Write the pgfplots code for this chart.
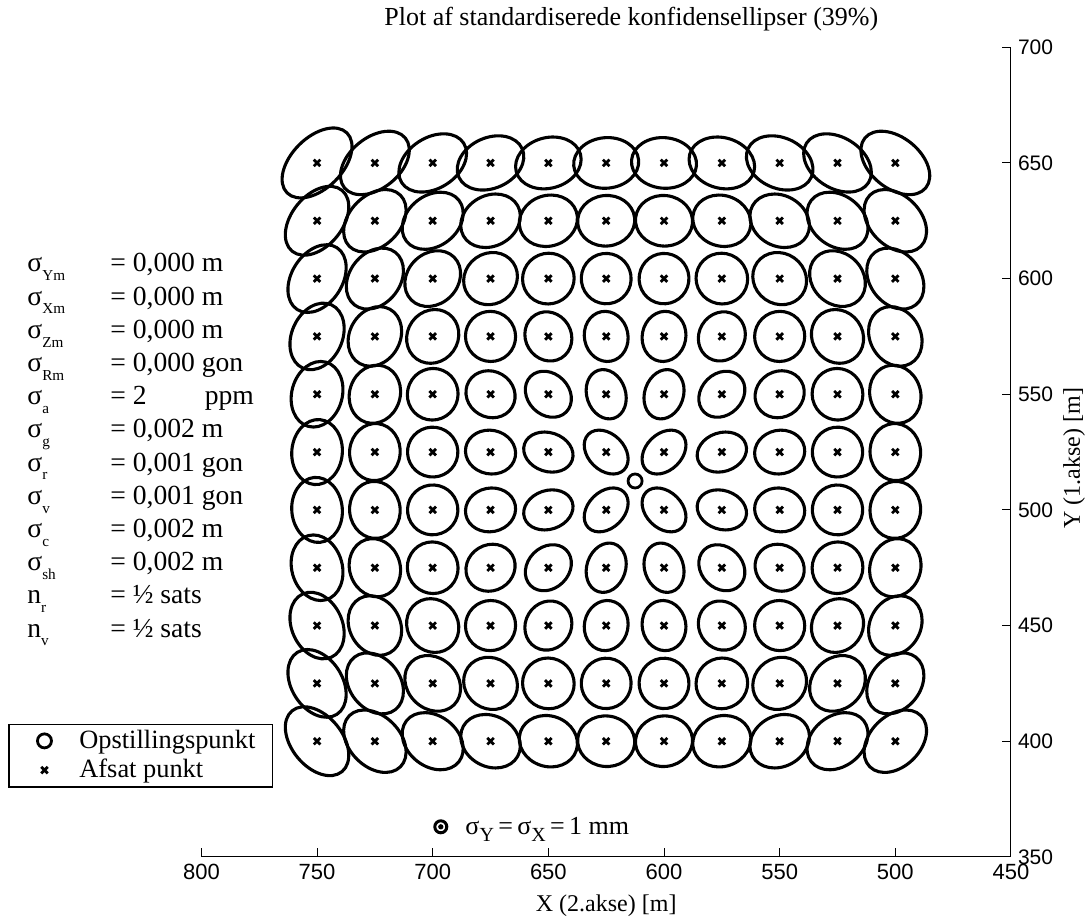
\documentclass[border=0pt]{standalone}
\usepackage{pgfplots}
\pgfplotsset{compat=1.18}
\usepackage{pgfplotstable}
\usepackage{fontspec}
\setmainfont{Liberation Serif}
\newfontfamily\sansf{Liberation Sans}

% drawing scale of the standard deviations: 1 mm on the drawing
\newdimen\ellunit
\ellunit=4.45pt
\newcommand\sub[1]{\raisebox{-4.4pt}[0pt][0pt]{\fontsize{7.6}{8}\selectfont #1}}

% staked-out points: X, Y [m], radial and transversal std. dev. [mm],
% direction of the radial axis on the drawing [deg]
\pgfplotstableread{
X   Y   r    t    a
750 400 2.85 4.42 39.3
725 400 2.85 4.06 45.0
700 400 2.84 3.74 52.1
675 400 2.84 3.49 61.0
650 400 2.84 3.31 71.6
625 400 2.84 3.21 83.7
600 400 2.84 3.21 -83.7
575 400 2.84 3.31 -71.6
550 400 2.84 3.49 -61.0
525 400 2.84 3.74 -52.1
500 400 2.85 4.06 -45.0
750 425 2.85 4.13 32.5
725 425 2.84 3.74 37.9
700 425 2.84 3.40 45.0
675 425 2.84 3.11 54.5
650 425 2.84 2.91 66.8
625 425 2.83 2.80 81.9
600 425 2.83 2.80 -81.9
575 425 2.84 2.91 -66.8
550 425 2.84 3.11 -54.5
525 425 2.84 3.40 -45.0
500 425 2.84 3.74 -37.9
750 450 2.84 3.90 24.4
725 450 2.84 3.49 29.1
700 450 2.84 3.11 35.5
675 450 2.83 2.80 45.0
650 450 2.83 2.57 59.0
625 450 2.83 2.45 78.7
600 450 2.83 2.45 -78.7
575 450 2.83 2.57 -59.0
550 450 2.83 2.80 -45.0
525 450 2.84 3.11 -35.5
500 450 2.84 3.49 -29.1
750 475 2.84 3.74 15.3
725 475 2.84 3.31 18.4
700 475 2.84 2.91 23.2
675 475 2.83 2.57 31.0
650 475 2.83 2.32 45.0
625 475 2.83 2.18 71.6
600 475 2.83 2.18 -71.6
575 475 2.83 2.32 -45.0
550 475 2.83 2.57 -31.0
525 475 2.84 2.91 -23.2
500 475 2.84 3.31 -18.4
750 500 2.84 3.66 5.2
725 500 2.84 3.21 6.3
700 500 2.83 2.80 8.1
675 500 2.83 2.45 11.3
650 500 2.83 2.18 18.4
625 500 2.83 2.04 45.0
600 500 2.83 2.04 -45.0
575 500 2.83 2.18 -18.4
550 500 2.83 2.45 -11.3
525 500 2.83 2.80 -8.1
500 500 2.84 3.21 -6.3
750 525 2.84 3.66 -5.2
725 525 2.84 3.21 -6.3
700 525 2.83 2.80 -8.1
675 525 2.83 2.45 -11.3
650 525 2.83 2.18 -18.4
625 525 2.83 2.04 -45.0
600 525 2.83 2.04 45.0
575 525 2.83 2.18 18.4
550 525 2.83 2.45 11.3
525 525 2.83 2.80 8.1
500 525 2.84 3.21 6.3
750 550 2.84 3.74 -15.3
725 550 2.84 3.31 -18.4
700 550 2.84 2.91 -23.2
675 550 2.83 2.57 -31.0
650 550 2.83 2.32 -45.0
625 550 2.83 2.18 -71.6
600 550 2.83 2.18 71.6
575 550 2.83 2.32 45.0
550 550 2.83 2.57 31.0
525 550 2.84 2.91 23.2
500 550 2.84 3.31 18.4
750 575 2.84 3.90 -24.4
725 575 2.84 3.49 -29.1
700 575 2.84 3.11 -35.5
675 575 2.83 2.80 -45.0
650 575 2.83 2.57 -59.0
625 575 2.83 2.45 -78.7
600 575 2.83 2.45 78.7
575 575 2.83 2.57 59.0
550 575 2.83 2.80 45.0
525 575 2.84 3.11 35.5
500 575 2.84 3.49 29.1
750 600 2.85 4.13 -32.5
725 600 2.84 3.74 -37.9
700 600 2.84 3.40 -45.0
675 600 2.84 3.11 -54.5
650 600 2.84 2.91 -66.8
625 600 2.83 2.80 -81.9
600 600 2.83 2.80 81.9
575 600 2.84 2.91 66.8
550 600 2.84 3.11 54.5
525 600 2.84 3.40 45.0
500 600 2.84 3.74 37.9
750 625 2.85 4.42 -39.3
725 625 2.85 4.06 -45.0
700 625 2.84 3.74 -52.1
675 625 2.84 3.49 -61.0
650 625 2.84 3.31 -71.6
625 625 2.84 3.21 -83.7
600 625 2.84 3.21 83.7
575 625 2.84 3.31 71.6
550 625 2.84 3.49 61.0
525 625 2.84 3.74 52.1
500 625 2.85 4.06 45.0
750 650 2.86 4.76 -45.0
725 650 2.85 4.42 -50.7
700 650 2.85 4.13 -57.5
675 650 2.84 3.90 -65.6
650 650 2.84 3.74 -74.7
625 650 2.84 3.66 -84.8
600 650 2.84 3.66 84.8
575 650 2.84 3.74 74.7
550 650 2.84 3.90 65.6
525 650 2.85 4.13 57.5
500 650 2.85 4.42 50.7
}\punkter

\begin{document}
\begin{tikzpicture}
\begin{axis}[
  name=ax,
  x=1.1565pt, y=1.1565pt,
  x dir=reverse,
  xmin=450, xmax=800, ymin=350, ymax=700,
  axis x line*=bottom, axis y line*=right,
  axis line style={line width=0.5pt},
  xtick={450,500,...,800}, ytick={350,400,...,700},
  tick align=inside,
  major tick length=4.5pt,
  tick style={line width=0.5pt, black},
  /pgf/number format/assume math mode=true,
  xticklabel style={font=\fontsize{11}{12}\sansf},
  yticklabel style={font=\fontsize{10.5}{12}\sansf},
  clip=false,
  title={Plot af standardiserede konfidensellipser (39\%)},
  every axis title/.style={at={(0.531,1.0272)}, anchor=base, inner sep=0pt,
    font=\fontsize{13}{15}\selectfont},
  xlabel={X (2.akse) [m]},
  every axis x label/.style={at={(0.5,-0.068)}, anchor=base, inner sep=0pt,
    font=\fontsize{12}{14}\selectfont},
  ylabel={Y (1.akse) [m]},
  every axis y label/.style={at={(1.085,0.4926)}, anchor=base, rotate=90,
    inner sep=0pt, font=\fontsize{12}{14}\selectfont},
  legend image code/.code={%
    \path (-12pt,0pt) (13.25pt,0pt);
    \draw[#1] plot coordinates {(0pt,0pt)};
  },
  legend style={at={(-0.2383,0.1646)}, anchor=north west, draw=black,
    line width=0.6pt, fill=white, inner xsep=5pt, inner ysep=3pt,
    row sep=3.9pt, font=\fontsize{13.2}{14}\selectfont,
    nodes={inner xsep=3.5pt, inner ysep=0pt}},
  legend cell align=left,
]

% instrument station
\addplot[only marks, mark=o, mark size=3.5pt, line width=1.4pt]
  coordinates {(612.5,512.5)};
\addlegendentry{Opstillingspunkt}
\addlegendimage{only marks, mark=x, mark size=2.3pt, line width=1.4pt}
\addlegendentry{Afsat punkt}

% staked-out points with their standard ellipses
\addplot[forget plot, scatter, only marks, mark=x, mark size=2.3pt,
  line width=1.4pt, mark options={line width=1.4pt},
  visualization depends on={\thisrow{r}\as\ellr},
  visualization depends on={\thisrow{t}\as\ellt},
  visualization depends on={\thisrow{a}\as\ella},
  scatter/@pre marker code/.code={%
    \pgfscope
      \pgfsetlinewidth{1.55pt}%
      \pgfsetroundjoin
      \pgftransformrotate{\ella}%
      \pgfpathellipse{\pgfpointorigin}{\pgfpoint{\ellr*\ellunit}{0pt}}{\pgfpoint{0pt}{\ellt*\ellunit}}%
      \pgfusepath{stroke}%
    \endpgfscope
  },
  scatter/@post marker code/.code={},
] table[x=X, y=Y] {\punkter};

% scale symbol: 1 mm circle
\addplot[forget plot, only marks, mark=o, mark size=3pt, line width=1.5pt]
  coordinates {(696.5,363)};
\addplot[forget plot, only marks, mark=*, mark size=1.1pt]
  coordinates {(696.5,363)};

% survey parameters
\node[anchor=base west, inner sep=0pt, font=\fontsize{13.8}{16.6}\selectfont]
  at (axis description cs:-0.2154,0.7225) {%
  \begin{tabular}[t]{@{}l@{}}
  \makebox[41.5pt][l]{σ\sub{Ym}}= 0,000 m\\
  \makebox[41.5pt][l]{σ\sub{Xm}}= 0,000 m\\
  \makebox[41.5pt][l]{σ\sub{Zm}}= 0,000 m\\
  \makebox[41.5pt][l]{σ\sub{Rm}}= 0,000 gon\\
  \makebox[41.5pt][l]{σ\sub{a}}= \makebox[36pt][l]{2}ppm\\
  \makebox[41.5pt][l]{σ\sub{g}}= 0,002 m\\
  \makebox[41.5pt][l]{σ\sub{r}}= 0,001 gon\\
  \makebox[41.5pt][l]{σ\sub{v}}= 0,001 gon\\
  \makebox[41.5pt][l]{σ\sub{c}}= 0,002 m\\
  \makebox[41.5pt][l]{σ\sub{sh}}= 0,002 m\\
  \makebox[41.5pt][l]{n\sub{r}}= ½ sats\\
  \makebox[41.5pt][l]{n\sub{v}}= ½ sats
  \end{tabular}};

% scale note
\node[anchor=base west, inner sep=0pt, font=\fontsize{13}{14}\selectfont]
  at (axis cs:686,359.6) {%
  σ\raisebox{-3.5pt}{\fontsize{10}{10}\selectfont Y}\,=\,σ\raisebox{-3.5pt}{\fontsize{10}{10}\selectfont X}\,=\,1 mm};
\end{axis}
\pgfresetboundingbox
\path ([shift={(-100.7pt,-31.5pt)}]ax.south west)
  rectangle ([shift={(39.5pt,23.65pt)}]ax.north east);
\end{tikzpicture}
\end{document}
